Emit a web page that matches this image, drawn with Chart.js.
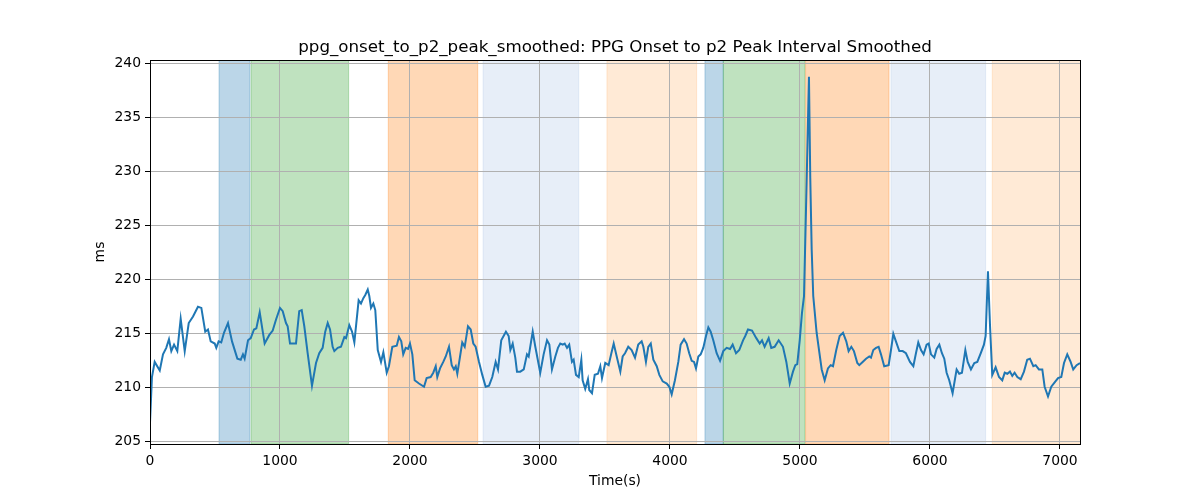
<!DOCTYPE html>
<html>
<head>
<meta charset="utf-8">
<script src="https://cdn.jsdelivr.net/npm/chart.js@4.4.1/dist/chart.umd.min.js"></script>
<style>
    html, body { margin: 0; padding: 0; background: #fff; }
    #wrap { width: 1200px; height: 500px; }
</style>
</head>
<body>
<div id="wrap"><canvas id="chart" width="1200" height="500"></canvas></div>
<script>
// time axis (s) and smoothed interval (ms)
const timeSec = [
    0, 15, 36, 75, 100, 125, 146, 164, 185, 210,
    236, 267, 298, 331, 369, 395, 425, 446, 467, 498,
    510, 528, 548, 569, 600, 631, 672, 698, 715, 728,
    754, 775, 800, 818, 844, 882, 918, 944, 969, 1000,
    1021, 1046, 1059, 1077, 1123, 1148, 1167, 1187, 1213, 1246,
    1277, 1302, 1328, 1348, 1367, 1385, 1405, 1418, 1444, 1469,
    1495, 1508, 1533, 1554, 1572, 1605, 1623, 1641, 1656, 1675,
    1687, 1700, 1718, 1733, 1752, 1777, 1795, 1821, 1838, 1864,
    1898, 1915, 1933, 1948, 1967, 1985, 2000, 2018, 2036, 2069,
    2108, 2128, 2159, 2179, 2198, 2210, 2231, 2256, 2275, 2300,
    2321, 2338, 2352, 2364, 2385, 2402, 2421, 2446, 2467, 2487,
    2505, 2531, 2556, 2582, 2608, 2633, 2659, 2677, 2702, 2738,
    2759, 2772, 2790, 2810, 2823, 2848, 2875, 2900, 2913, 2944,
    2964, 3002, 3028, 3054, 3072, 3092, 3118, 3138, 3156, 3175,
    3190, 3208, 3225, 3246, 3259, 3277, 3298, 3318, 3328, 3348,
    3369, 3379, 3400, 3421, 3446, 3464, 3477, 3502, 3528, 3549,
    3567, 3592, 3618, 3636, 3654, 3679, 3705, 3731, 3756, 3782,
    3795, 3815, 3833, 3852, 3872, 3898, 3918, 3944, 3975, 3995,
    4013, 4038, 4064, 4082, 4108, 4128, 4148, 4167, 4185, 4200,
    4218, 4236, 4256, 4277, 4295, 4313, 4333, 4359, 4385, 4410,
    4436, 4462, 4482, 4508, 4533, 4562, 4579, 4600, 4631, 4664,
    4690, 4708, 4728, 4759, 4779, 4805, 4836, 4869, 4895, 4921,
    4946, 4964, 4979, 4998, 5015, 5031, 5051, 5069, 5079, 5090,
    5102, 5128, 5167, 5190, 5215, 5236, 5254, 5279, 5305, 5331,
    5356, 5374, 5395, 5415, 5441, 5456, 5482, 5508, 5533, 5546,
    5564, 5585, 5605, 5623, 5648, 5682, 5700, 5718, 5738, 5764,
    5790, 5815, 5846, 5872, 5892, 5910, 5931, 5951, 5974, 5990,
    6008, 6033, 6051, 6072, 6092, 6110, 6128, 6148, 6174, 6195,
    6205, 6225, 6246, 6272, 6290, 6315, 6341, 6364, 6390, 6415,
    6428, 6446, 6462, 6479, 6505, 6531, 6556, 6575, 6595, 6615,
    6633, 6651, 6672, 6698, 6723, 6748, 6769, 6795, 6813, 6838,
    6864, 6882, 6908, 6933, 6959, 6985, 7010, 7031, 7056, 7082,
    7102, 7128, 7154
];
const intervalMs = [
    206.8, 211.0, 212.4, 211.6, 213.1, 213.7, 214.5, 213.4, 214.0, 213.4,
    216.4, 213.4, 216.0, 216.6, 217.5, 217.4, 215.2, 215.4, 214.3, 214.1,
    213.7, 214.3, 214.2, 215.1, 216.0, 214.3, 212.7, 212.6, 213.1, 212.7,
    214.4, 214.6, 215.4, 215.5, 217.0, 214.1, 214.9, 215.3, 216.3, 217.4,
    217.1, 216.0, 215.7, 214.1, 214.1, 217.1, 217.2, 215.7, 213.2, 210.2,
    212.3, 213.2, 213.7, 215.2, 216.0, 215.4, 213.8, 213.4, 213.7, 213.8,
    214.7, 214.6, 215.8, 215.2, 214.2, 218.1, 217.8, 218.3, 218.6, 219.1,
    218.5, 217.4, 217.8, 217.2, 213.5, 212.4, 213.3, 211.4, 212.0, 213.8,
    213.9, 214.7, 214.3, 213.1, 213.7, 213.6, 214.1, 213.1, 210.7, 210.4,
    210.1, 210.9, 211.0, 211.4, 212.0, 211.0, 211.8, 212.4, 212.9, 213.8,
    212.1, 211.7, 212.0, 211.3, 212.9, 214.2, 213.8, 215.7, 215.4, 214.1,
    213.8, 212.4, 211.2, 210.1, 210.2, 211.0, 212.4, 211.7, 214.4, 215.2,
    214.8, 213.5, 214.1, 212.8, 211.5, 211.5, 211.7, 213.1, 212.9, 215.2,
    213.8, 211.4, 213.1, 214.4, 214.0, 211.7, 212.9, 213.7, 214.1, 214.0,
    214.1, 213.7, 214.0, 212.4, 212.6, 211.2, 211.0, 212.6, 210.7, 209.9,
    210.8, 209.8, 209.5, 211.2, 211.3, 212.0, 210.9, 212.3, 212.1, 213.2,
    214.1, 212.8, 211.5, 212.9, 213.2, 213.8, 213.5, 212.8, 214.0, 214.3,
    213.8, 212.4, 213.8, 214.1, 212.6, 212.0, 211.2, 210.6, 210.4, 210.1,
    209.4, 210.7, 212.4, 214.0, 214.5, 214.1, 213.2, 212.5, 212.4, 211.8,
    212.9, 213.1, 213.7, 214.8, 215.6, 215.2, 214.4, 213.2, 212.5, 213.4,
    213.7, 213.6, 214.0, 213.2, 213.5, 214.4, 214.8, 215.4, 215.3, 214.6,
    214.1, 214.4, 213.8, 214.6, 213.7, 213.8, 214.4, 213.8, 212.4, 210.4,
    211.5, 212.1, 212.2, 214.4, 216.9, 218.5, 229.0, 238.8, 229.5, 222.8,
    218.5, 215.1, 211.7, 210.7, 211.8, 212.1, 212.0, 213.5, 214.8, 215.1,
    214.3, 213.4, 213.8, 213.4, 212.3, 212.1, 212.4, 212.7, 212.9, 212.8,
    213.5, 213.7, 213.8, 213.1, 212.0, 212.1, 213.5, 215.0, 214.3, 213.4,
    213.4, 213.2, 212.4, 212.0, 213.2, 214.2, 213.5, 213.1, 214.0, 214.1,
    213.1, 212.8, 213.6, 214.0, 213.2, 212.7, 211.4, 210.7, 209.5, 211.0,
    211.7, 211.3, 211.4, 213.5, 212.4, 211.7, 212.3, 212.4, 213.2, 214.0,
    214.8, 220.8, 215.7, 211.2, 211.9, 211.0, 210.7, 211.4, 211.3, 211.5,
    211.1, 211.4, 211.0, 210.8, 211.5, 212.6, 212.7, 212.0, 212.1, 211.7,
    211.7, 210.1, 209.2, 210.1, 210.5, 210.9, 211.0, 212.3, 213.1, 212.4,
    211.7, 212.1, 212.3
];

// shaded phases (start / end in seconds)
const bandStart = [531, 777, 1833, 2562, 3515, 4269, 4410, 5043, 5700, 6479];
const bandEnd   = [768, 1528, 2521, 3298, 4205, 4410, 5038, 5685, 6428, 7300];
const bandKind  = ['blue', 'green', 'orange', 'lightblue', 'lightorange', 'blue', 'green', 'orange', 'lightblue', 'lightorange'];

const xTicks = [0, 1000, 2000, 3000, 4000, 5000, 6000, 7000];
const yTicks = [205, 210, 215, 220, 225, 230, 235, 240];

const X_MIN = 0, X_MAX = 7154;
const Y_MIN = 204.8, Y_MAX = 240.35;

const TITLE = 'ppg_onset_to_p2_peak_smoothed: PPG Onset to p2 Peak Interval Smoothed';

const bandColors = {
    blue: 'rgba(31,119,180,0.3)',
    green: 'rgba(44,160,44,0.3)',
    orange: 'rgba(255,127,14,0.3)',
    lightblue: 'rgba(174,199,232,0.3)',
    lightorange: 'rgba(255,187,120,0.3)'
};

const FONT = "'DejaVu Sans', sans-serif";

const bandPlugin = {
    id: 'bands',
    beforeDraw(chart) {
        const { ctx, chartArea, scales } = chart;
        ctx.save();
        ctx.beginPath();
        ctx.rect(chartArea.left, chartArea.top, chartArea.right - chartArea.left, chartArea.bottom - chartArea.top);
        ctx.clip();
        for (let i = 0; i < bandStart.length; i++) {
            const x0 = scales.x.getPixelForValue(bandStart[i]);
            const x1 = scales.x.getPixelForValue(bandEnd[i]);
            ctx.fillStyle = bandColors[bandKind[i]];
            ctx.strokeStyle = bandColors[bandKind[i]];
            ctx.lineWidth = 1;
            ctx.fillRect(x0, chartArea.top, x1 - x0, chartArea.bottom - chartArea.top);
            ctx.strokeRect(x0, chartArea.top, x1 - x0, chartArea.bottom - chartArea.top);
        }
        ctx.restore();
    }
};

// frame on all four sides + title centred over the plot area (like matplotlib)
const framePlugin = {
    id: 'frame',
    afterDraw(chart) {
        const { ctx, chartArea } = chart;
        ctx.save();
        ctx.strokeStyle = '#000';
        ctx.lineWidth = 1;
        ctx.strokeRect(Math.round(chartArea.left) + 0.5, Math.round(chartArea.top) + 0.5,
            Math.round(chartArea.right - chartArea.left), Math.round(chartArea.bottom - chartArea.top));
        ctx.fillStyle = '#000';
        ctx.font = '16.7px ' + FONT;
        ctx.textAlign = 'center';
        ctx.textBaseline = 'alphabetic';
        ctx.fillText(TITLE, (chartArea.left + chartArea.right) / 2, chartArea.top - 8);
        ctx.restore();
    }
};

function buildPoints() {
    return timeSec.map((t, i) => ({ x: t, y: intervalMs[i] }));
}

function init() {
    const ctx = document.getElementById('chart').getContext('2d');
    new Chart(ctx, {
        type: 'line',
        data: {
            datasets: [{
                label: 'ppg_onset_to_p2_peak_smoothed',
                data: buildPoints(),
                borderColor: '#1f77b4',
                borderWidth: 2,
                pointRadius: 0,
                tension: 0,
                fill: false
            }]
        },
        options: {
            responsive: false,
            animation: false,
            devicePixelRatio: 1,
            layout: { padding: { left: 0, right: 120, top: 60, bottom: 0 } },
            plugins: {
                legend: { display: false },
                tooltip: { enabled: false },
                title: { display: false }
            },
            scales: {
                x: {
                    type: 'linear',
                    min: X_MIN,
                    max: X_MAX,
                    afterBuildTicks: axis => { axis.ticks = xTicks.map(v => ({ value: v })); },
                    afterFit: axis => { axis.height = 56; },
                    ticks: {
                        color: '#000',
                        font: { family: FONT, size: 13.9 },
                        padding: 4,
                        maxRotation: 0,
                        callback: v => String(v)
                    },
                    grid: { color: '#b0b0b0', lineWidth: 1, drawTicks: true, tickLength: 5, tickColor: '#000' },
                    border: { display: false },
                    title: {
                        display: true,
                        text: 'Time(s)',
                        color: '#000',
                        font: { family: FONT, size: 13.9 },
                        padding: { top: 0, bottom: 10 }
                    }
                },
                y: {
                    type: 'linear',
                    min: Y_MIN,
                    max: Y_MAX,
                    afterBuildTicks: axis => { axis.ticks = yTicks.map(v => ({ value: v })); },
                    afterFit: axis => { axis.width = 150; },
                    ticks: {
                        color: '#000',
                        font: { family: FONT, size: 13.9 },
                        padding: 4,
                        callback: v => String(v)
                    },
                    grid: { color: '#b0b0b0', lineWidth: 1, drawTicks: true, tickLength: 5, tickColor: '#000' },
                    border: { display: false },
                    title: {
                        display: true,
                        text: 'ms',
                        color: '#000',
                        font: { family: FONT, size: 13.9 },
                        padding: { top: 92, bottom: 0 }
                    }
                }
            }
        },
        plugins: [bandPlugin, framePlugin]
    });
}

init();
</script>
</body>
</html>
